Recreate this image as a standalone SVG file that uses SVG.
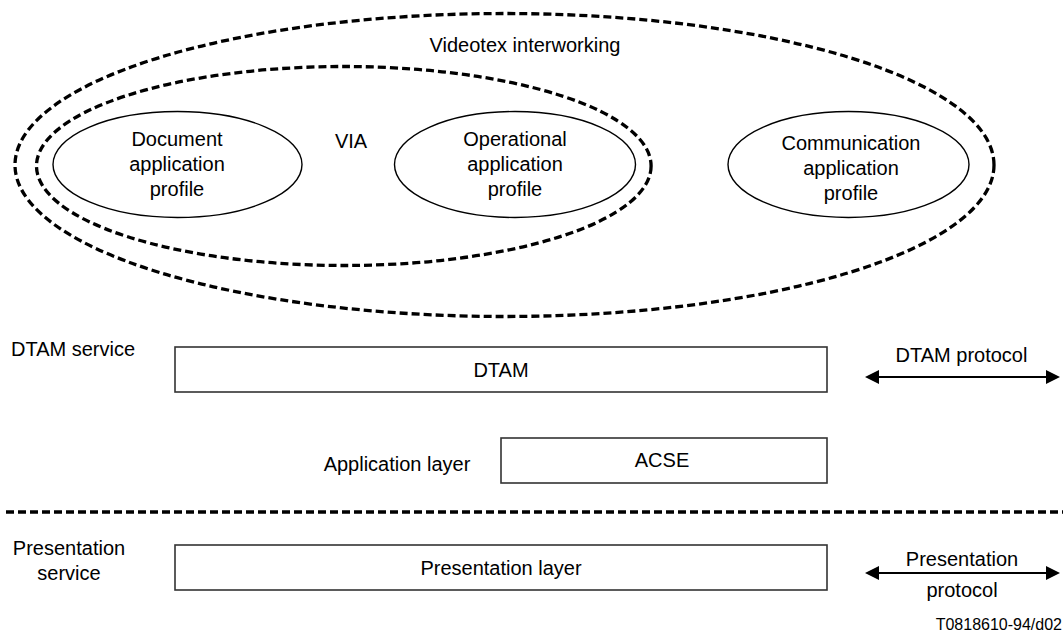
<svg xmlns="http://www.w3.org/2000/svg" width="1063" height="633" viewBox="0 0 1063 633">
<style>
text{font-family:"Liberation Sans",Arial,sans-serif;font-size:20px;fill:#000}
.c{text-anchor:middle}
.dash{fill:none;stroke:#000;stroke-width:3.3;stroke-dasharray:8 4}
.prof{fill:none;stroke:#000;stroke-width:1.4}
.box{fill:#fff;stroke:#333;stroke-width:1.6}
.arr{stroke:#000;stroke-width:2;fill:none;marker-start:url(#ah);marker-end:url(#ah)}
.small{font-size:16px}
</style>
<defs>
<marker id="ah" viewBox="0 0 14 14" refX="9" refY="7" markerWidth="14" markerHeight="14" markerUnits="userSpaceOnUse" orient="auto-start-reverse">
<path d="M0,0 L14,7 L0,14 z" fill="#000"/>
</marker>
</defs>
<g id="videotex-interworking">
<ellipse class="dash" cx="504.5" cy="165" rx="489.5" ry="151.5"/>
<text class="c" x="525" y="52">Videotex interworking</text>
</g>
<g id="via">
<ellipse class="dash" cx="343.8" cy="166" rx="307.3" ry="99.5"/>
<text class="c" x="351" y="148">VIA</text>
</g>
<g id="document-profile">
<ellipse class="prof" cx="177.5" cy="164.5" rx="124.5" ry="53"/>
<text class="c" x="177" y="146">Document</text>
<text class="c" x="177" y="171">application</text>
<text class="c" x="177" y="196">profile</text>
</g>
<g id="operational-profile">
<ellipse class="prof" cx="515" cy="164.5" rx="120.5" ry="53"/>
<text class="c" x="515" y="146">Operational</text>
<text class="c" x="515" y="171">application</text>
<text class="c" x="515" y="196">profile</text>
</g>
<g id="communication-profile">
<ellipse class="prof" cx="848.5" cy="164.5" rx="120.5" ry="53"/>
<text class="c" x="851" y="150">Communication</text>
<text class="c" x="851" y="175">application</text>
<text class="c" x="851" y="200">profile</text>
</g>
<g id="dtam">
<text x="11" y="356">DTAM service</text>
<rect class="box" x="175" y="347" width="652" height="45"/>
<text class="c" x="501" y="377">DTAM</text>
</g>
<g id="acse">
<text class="c" x="397" y="471">Application layer</text>
<rect class="box" x="501" y="438" width="326" height="45"/>
<text class="c" x="662" y="467">ACSE</text>
</g>
<g id="presentation">
<text class="c" x="69" y="555">Presentation</text>
<text class="c" x="69" y="580">service</text>
<rect class="box" x="175" y="545" width="652" height="45"/>
<text class="c" x="501" y="575">Presentation layer</text>
</g>
<g id="connectors">
<line class="dash" x1="6" y1="512" x2="1063" y2="512" stroke-dasharray="9 4"/>
<line class="arr" x1="870" y1="377" x2="1055" y2="377"/>
<line class="arr" x1="870" y1="573" x2="1055" y2="573"/>
</g>
<g id="labels">
<text class="c" x="961.5" y="362">DTAM protocol</text>
<text class="c" x="962" y="566">Presentation</text>
<text class="c" x="962" y="597">protocol</text>
<text class="small" x="1062" y="630" text-anchor="end">T0818610-94/d02</text>
</g>
</svg>
